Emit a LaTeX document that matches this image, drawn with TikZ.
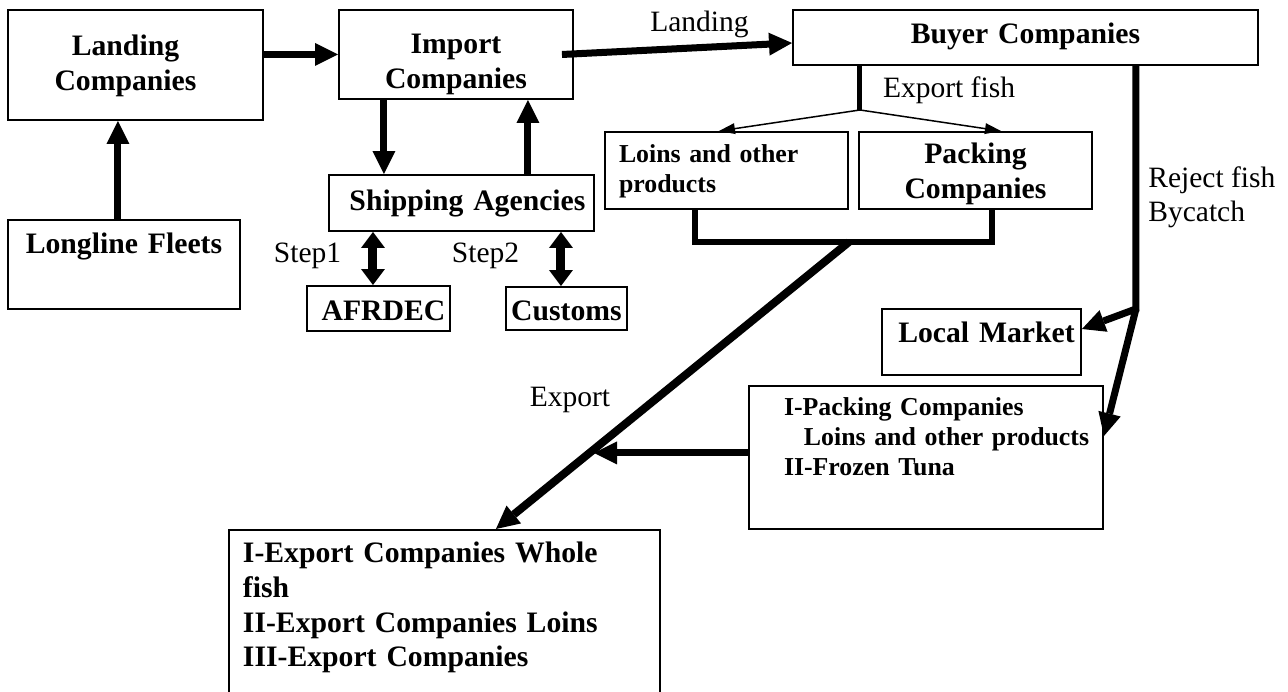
\documentclass[tikz,border=0pt]{standalone}
\usepackage{fontspec}
\setmainfont{Liberation Serif}
\usetikzlibrary{arrows.meta}

\tikzset{
  box/.style={draw, line width=0.04cm, inner sep=0pt, align=center,
    font=\fontsize{16.9}{19.7}\selectfont\bfseries},
  smallbox/.style={box, align=left, font=\fontsize{14.7}{17}\selectfont\bfseries},
  lbl/.style={inner sep=0pt, font=\fontsize{16.8}{19.7}\selectfont},
  bigarrow/.style={line width=0.14cm, -{Triangle[length=0.46cm,width=0.46cm,line width=0pt]}},
  dblarrow/.style={line width=0.18cm,
    {Triangle[length=0.32cm,width=0.48cm,line width=0pt]}-{Triangle[length=0.32cm,width=0.48cm,line width=0pt]}},
  thinarrow/.style={line width=0.03cm, -{Triangle[length=0.32cm,width=0.22cm,line width=0pt]}},
  heavy/.style={line width=0.12cm},
}

\begin{document}
\begin{tikzpicture}[x=0.02cm, y=-0.02cm]
\useasboundingbox (0,0) rectangle (1288,692);

% boxes
\node[box, anchor=north west, text width=5.1cm, text height=0.92cm, text depth=1.28cm] (landing) at (7,9)
  {\hspace*{-0.4cm}Landing\\\hspace*{-0.4cm}Companies};
\node[box, anchor=north west, text width=4.64cm, text height=0.68cm, text depth=1.1cm] (fleets) at (7,219) {Longline Fleets};
\node[box, anchor=north west, text width=4.68cm, text height=0.88cm, text depth=0.9cm] (import) at (338,9) {Import\\Companies};
\node[box, anchor=north west, text width=9.3cm, text height=0.68cm, text depth=0.42cm] (buyer) at (792,9) {Buyer Companies};
\node[box, anchor=north west, text width=5.3cm, text height=0.72cm, text depth=0.4cm] (shipping) at (328,174) {\hspace*{0.24cm}Shipping Agencies};
\node[box, anchor=north west, text width=2.86cm, text height=0.7cm, text depth=0.2cm] (afrdec) at (306,285) {\hspace*{0.2cm}AFRDEC};
\node[box, anchor=north west, text width=2.42cm, text height=0.68cm, text depth=0.18cm] (customs) at (505,286) {Customs};
\node[smallbox, anchor=north west, text width=4.86cm, text height=0.62cm, text depth=0.92cm] (loins) at (604,131)
  {\hspace*{0.28cm}Loins and other\\\hspace*{0.28cm}products};
\node[box, anchor=north west, text width=4.66cm, text height=0.64cm, text depth=0.9cm] (packing) at (858,131) {Packing\\Companies};
\node[box, anchor=north west, text width=3.98cm, text height=0.68cm, text depth=0.64cm] (market) at (881,308) {\hspace*{0.2cm}Local Market};
\node[smallbox, anchor=north west, text width=7.08cm, text height=0.6cm, text depth=2.26cm] (ipacking) at (748,385)
  {\hspace*{0.7cm}I-Packing Companies\\\hspace*{1.1cm}Loins and other products\\\hspace*{0.7cm}II-Frozen Tuna};
\node[box, align=left, anchor=north west, text width=8.62cm, text height=0.66cm, text depth=2.94cm] (export) at (228,529)
  {\hspace*{0.28cm}I-Export Companies Whole\\\hspace*{0.28cm}fish\\\hspace*{0.28cm}II-Export Companies Loins\\\hspace*{0.28cm}III-Export Companies};

% labels
\node[lbl, anchor=base] (landinglbl) at (699.5,32) {Landing};
\node[lbl, anchor=base] (exportfishlbl) at (949,98) {Export fish};
\node[lbl, anchor=base] (step1lbl) at (307.5,263) {Step1};
\node[lbl, anchor=base] (step2lbl) at (485.5,263) {Step2};
\node[lbl, anchor=north west, align=left] (rejectlbl) at (1148,166) {Reject fish\\Bycatch};
\node[lbl, anchor=base] (exportlbl) at (570,407) {Export};

% left part
\coordinate (fleetsout) at ([xshift=-0.12cm]fleets.north);
\draw[bigarrow] (fleetsout) -- (fleetsout |- landing.south);
\draw[bigarrow] (landing.east |- import.west) -- (import.west);
\draw[bigarrow] ([xshift=-0.24cm]import.east) -- ([yshift=-0.11cm]buyer.west);
\coordinate (shipin) at ([xshift=-1.44cm]import.south);
\coordinate (shipout) at ([xshift=1.44cm]import.south);
\draw[bigarrow] (shipin) -- (shipin |- shipping.north);
\draw[bigarrow] (shipout |- shipping.north) -- (shipout);
\coordinate (step1) at ([xshift=-0.11cm]afrdec.north);
\coordinate (step2) at ([xshift=-0.11cm]customs.north);
\draw[dblarrow] (step1 |- shipping.south) -- (step1);
\draw[dblarrow] (step2 |- shipping.south) -- (step2);

% export fish
\coordinate (split) at ([xshift=-3.31cm, yshift=-0.88cm]buyer.south);
\draw[line width=0.1cm] (split |- buyer.south) -- (split);
\draw[thinarrow] (split) -- ([xshift=-0.15cm]loins.north);
\draw[thinarrow] (split) -- ([xshift=0.51cm]packing.north);
\draw[heavy] ([xshift=-0.63cm]loins.south) -- ++(0,32) -| ([xshift=0.33cm]packing.south);
\coordinate (fork) at ([yshift=-0.64cm]loins.south east);
\draw[bigarrow, line width=0.16cm] (fork) -- ([xshift=1.03cm]export.north);
\draw[bigarrow] ([yshift=0.09cm]ipacking.west) -- ++(-154,0);

% reject fish
\coordinate (reject) at ([xshift=2.21cm]buyer.south);
\coordinate (rejectend) at ([yshift=-4.86cm]reject);
\draw[bigarrow] (reject) -- (rejectend) -- ([yshift=0.26cm]market.east);
\draw[bigarrow] (rejectend) -- ([yshift=0.43cm]ipacking.east);
\end{tikzpicture}
\end{document}
